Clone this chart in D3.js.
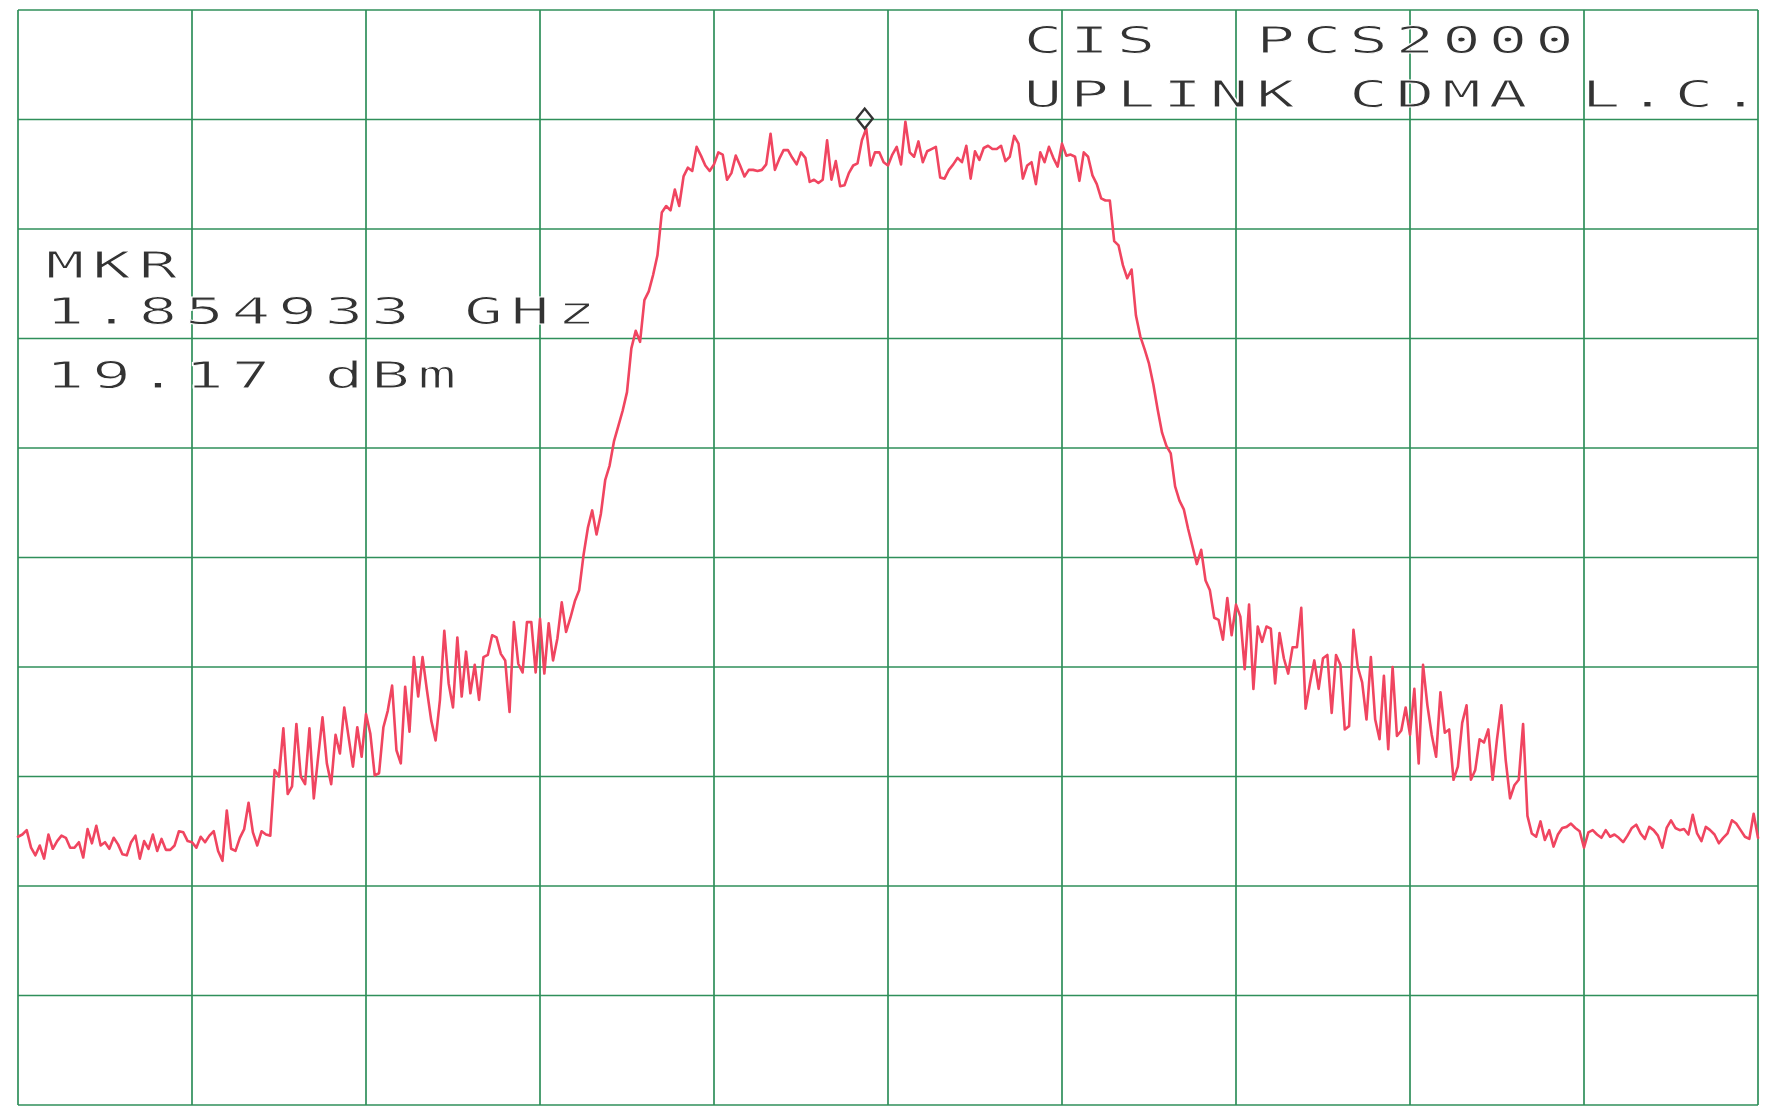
<!DOCTYPE html>
<html><head><meta charset="utf-8">
<script src="https://cdn.jsdelivr.net/npm/d3@7"></script>
<style>html,body{margin:0;padding:0;background:#fff;} svg{display:block;}</style>
</head><body>
<svg id="chart" width="1765" height="1110"></svg>
<script>
// ---- data ----
const startFreqMHz = 1852.5;
const stopFreqMHz = 1857.5;
const freqGridMHz = [1852.5, 1853, 1853.5, 1854, 1854.5, 1855, 1855.5, 1856, 1856.5, 1857, 1857.5];
const levelGridDbm = [30, 20, 10, 0, -10, -20, -30, -40, -50, -60, -70];
const levelDbm = [
-45.5,-45.3,-44.9,-46.5,-47.2,-46.3,-47.5,-45.3,-46.6,-45.9,
-45.4,-45.6,-46.5,-46.5,-46.0,-47.4,-44.8,-46.1,-44.5,-46.3,
-46.0,-46.6,-45.6,-46.2,-47.1,-47.2,-46.0,-45.4,-47.5,-45.9,
-46.6,-45.3,-46.8,-45.7,-46.7,-46.7,-46.3,-45.0,-45.1,-45.9,
-46.0,-46.5,-45.5,-46.0,-45.4,-45.0,-46.8,-47.7,-43.1,-46.6,
-46.8,-45.6,-44.8,-42.4,-45.1,-46.3,-45.0,-45.3,-45.4,-39.4,
-40.0,-35.6,-41.6,-40.9,-35.2,-40.0,-40.7,-35.6,-42.0,-38.2,
-34.6,-38.8,-40.7,-36.2,-37.9,-33.7,-36.4,-39.1,-35.5,-38.2,
-34.3,-36.1,-39.9,-39.7,-35.5,-34.0,-31.7,-37.6,-38.8,-31.8,
-35.9,-29.1,-32.7,-29.1,-32.1,-34.9,-36.7,-33.0,-26.7,-31.5,
-33.7,-27.3,-32.7,-28.6,-32.4,-29.8,-33.0,-29.1,-28.9,-27.1,
-27.3,-28.8,-29.4,-34.1,-25.9,-29.7,-30.5,-25.9,-25.9,-30.5,
-25.6,-30.6,-26.0,-29.4,-27.4,-24.1,-26.8,-25.5,-24.0,-23.0,
-19.8,-17.3,-15.7,-17.9,-16.0,-12.9,-11.6,-9.4,-8.0,-6.6,
-4.9,-0.9,0.7,-0.3,3.5,4.3,5.8,7.6,11.5,12.1,
11.7,13.6,12.1,14.8,15.6,15.3,17.5,16.7,15.8,15.3,
15.9,17.0,16.8,14.5,15.1,16.7,15.8,14.8,15.4,15.4,
15.3,15.4,15.9,18.7,15.4,16.4,17.2,17.2,16.5,15.9,
17.0,16.5,14.3,14.5,14.2,14.5,18.1,14.5,16.2,13.9,
14.0,15.1,15.8,16.0,18.1,19.17,15.8,17.0,17.0,16.1,
15.8,16.8,17.5,15.9,19.8,17.0,16.6,18.0,16.1,17.1,
17.3,17.5,14.7,14.6,15.4,15.9,16.5,16.1,17.6,14.6,
17.1,16.3,17.4,17.6,17.3,17.3,17.6,16.2,16.6,18.5,
17.8,14.6,15.8,16.1,14.1,17.0,16.1,17.5,16.5,15.7,
17.8,16.7,16.8,16.6,14.4,17.0,16.6,14.9,14.1,12.8,
12.6,12.6,8.9,8.5,6.7,5.5,6.3,2.1,0.2,-1.0,
-2.3,-4.2,-6.5,-8.6,-9.8,-10.5,-13.5,-14.8,-15.6,-17.4,
-19.0,-20.6,-19.3,-22.1,-23.0,-25.5,-25.7,-27.5,-23.7,-27.1,
-24.3,-25.4,-30.2,-24.3,-32.0,-26.3,-27.7,-26.3,-26.5,-31.5,
-26.9,-29.2,-30.6,-28.2,-28.2,-24.6,-33.8,-31.5,-29.4,-32.0,
-29.2,-28.9,-34.2,-28.9,-29.8,-35.7,-35.4,-26.6,-30.0,-31.4,
-34.8,-29.1,-34.8,-36.6,-30.8,-37.5,-30.0,-36.3,-35.8,-33.7,
-36.2,-32.0,-38.8,-29.8,-33.5,-36.2,-38.2,-32.3,-36.0,-35.7,
-40.3,-39.1,-35.1,-33.5,-40.3,-39.4,-36.6,-36.9,-35.7,-40.3,
-36.6,-33.5,-38.5,-42.0,-40.8,-40.3,-35.2,-43.6,-45.2,-45.5,
-44.1,-45.8,-44.9,-46.4,-45.3,-44.7,-44.6,-44.3,-44.7,-45.0,
-46.5,-45.1,-44.9,-45.3,-45.6,-44.9,-45.5,-45.3,-45.6,-46.0,
-45.4,-44.7,-44.4,-45.2,-45.7,-44.6,-44.9,-45.4,-46.5,-44.7,
-44.0,-44.7,-44.9,-44.8,-45.3,-43.5,-45.2,-45.9,-44.6,-44.9,
-45.3,-46.1,-45.6,-45.2,-44.0,-44.3,-44.9,-45.5,-45.7,-43.4,
-45.6
];
const markerFreqMHz = 1854.933;
const markerLevelDbm = 19.17;
const titleLines = ["CIS  PCS2000", "UPLINK CDMA L.C."];
const markerLines = ["MKR", "1.854933 GHz", "19.17 dBm"];

// ---- drawing ----
const svg = d3.select("#chart");
svg.append("rect").attr("width", 1765).attr("height", 1110).attr("fill", "#ffffff");

const x = d3.scaleLinear().domain([startFreqMHz, stopFreqMHz]).range([18, 1758]);
const y = d3.scaleLinear().domain([-70, 30]).range([1105, 10]);

const gridColor = "#2f8f5a";
const grid = svg.append("g").attr("stroke", gridColor).attr("stroke-width", 1.7).attr("fill", "none");
grid.selectAll("line.v").data(freqGridMHz).join("line").attr("class", "v")
  .attr("x1", d => x(d)).attr("x2", d => x(d)).attr("y1", y(30)).attr("y2", y(-70));
grid.selectAll("line.h").data(levelGridDbm).join("line").attr("class", "h")
  .attr("y1", d => y(d)).attr("y2", d => y(d)).attr("x1", x(startFreqMHz)).attr("x2", x(stopFreqMHz));

const n = levelDbm.length;
const step = (stopFreqMHz - startFreqMHz) / (n - 1);
const pts = levelDbm.map((v, i) => [startFreqMHz + i * step, v]);
const line = d3.line().x(d => x(d[0])).y(d => y(d[1]));
svg.append("path").datum(pts).attr("d", line)
  .attr("fill", "none").attr("stroke", "#f04560").attr("stroke-width", 2.6)
  .attr("stroke-linejoin", "round").attr("stroke-linecap", "round");

// marker diamond (bottom tip at the marker point)
const mx = x(markerFreqMHz), my = y(markerLevelDbm);
svg.append("path")
  .attr("d", `M${mx},${my} L${mx + 8},${my - 10} L${mx},${my - 20} L${mx - 8},${my - 10} Z`)
  .attr("fill", "none").attr("stroke", "#333").attr("stroke-width", 2.4);

// plotter-style text: one glyph per character cell
const cell = 46.5;
function drawLine(str, cx0, baseline) {
  const g = svg.append("g");
  str.split("").forEach((ch, k) => {
    if (ch === " ") return;
    g.append("text")
      .attr("transform", `translate(${cx0 + k * cell},${baseline}) scale(1.75,1)`)
      .attr("text-anchor", "middle")
      .attr("font-family", "'DejaVu Sans Mono', 'Liberation Mono', monospace")
      .attr("font-size", 37)
      .attr("fill", "#333333")
      .attr("stroke", "#ffffff").attr("stroke-width", 1.0)
      .text(ch);
  });
}
drawLine(titleLines[0], 1043, 53);
drawLine(titleLines[1], 1043, 107);
drawLine(markerLines[0], 65, 278);
drawLine(markerLines[1], 65, 324);
drawLine(markerLines[2], 65, 388);
</script>
</body></html>
